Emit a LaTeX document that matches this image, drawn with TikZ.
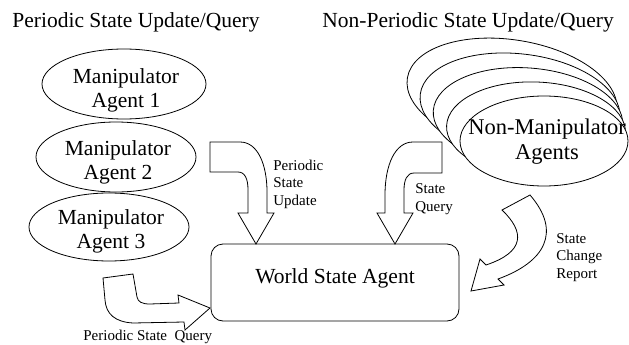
\documentclass[tikz,border=0pt]{standalone}
\usepackage{fontspec}
\setmainfont{Liberation Serif}
\usetikzlibrary{shapes.geometric}
\begin{document}
\begin{tikzpicture}[x=1pt,y=-1pt,line width=0.8pt,
  bigtxt/.style={font=\fontsize{21.5}{24}\selectfont,inner sep=0pt,align=center},
  smalltxt/.style={font=\fontsize{15}{17.5}\selectfont,inner sep=0pt,align=left},
  agent/.style={draw,ellipse,fill=white,inner sep=0pt},
  blockarrow/.style={draw,fill=white,line join=miter}]
\useasboundingbox (0,0) rectangle (629,345);

% titles
\node[bigtxt,anchor=base west] (t1) at (12,27.5) {Periodic State Update/Query};
\node[bigtxt,anchor=base west] (t2) at (322,27.5) {Non-Periodic State Update/Query};

% manipulator agents
\node[agent,minimum width=164pt,minimum height=70pt] (m1) at (124,84) {};
\node[bigtxt] (m1t) at (126,90) {Manipulator\\Agent 1};
\node[agent,minimum width=160pt,minimum height=70pt] (m2) at (116,157) {};
\node[bigtxt] (m2t) at (118,162) {Manipulator\\Agent 2};
\node[agent,minimum width=160pt,minimum height=68pt] (m3) at (109,227) {};
\node[bigtxt] (m3t) at (111,231) {Manipulator\\Agent 3};

% stack of non-manipulator agents
\foreach \k in {4,3,2,1}{
  \pgfmathsetmacro{\t}{\k/4}
  \pgfmathsetmacro{\cx}{544-32*\t}
  \pgfmathsetmacro{\cy}{141-46*\t}
  \pgfmathsetmacro{\ra}{84+22*\t}
  \pgfmathsetmacro{\rb}{45+10*\t}
  \pgfmathsetmacro{\ang}{9.3*\t}
  \draw[fill=white,rotate around={-\ang:(\cx,\cy)}] (\cx,\cy) ellipse [x radius=\ra pt,y radius=\rb pt];
}
\node[agent,minimum width=168pt,minimum height=90pt] (nm) at (544,141) {};
\node[font=\fontsize{22.5}{25}\selectfont,align=center,inner sep=0pt] (nmt) at (547,142) {Non-Manipulator\\Agents};

% world state agent
\node[draw,rounded corners=12pt,minimum width=248pt,minimum height=77pt,inner sep=0pt] (ws) at (335,282.5) {};
\node[bigtxt,anchor=base] (wst) at (335,283) {World State Agent};

% block arrows
\draw[blockarrow] (210,142) -- (240,142) .. controls (258,142) and (267,165) .. (267,192) -- (267,213)
  -- (274,213) -- (256,244) -- (238,213) -- (248,213) -- (248,190)
  .. controls (248,179) and (245,172) .. (238,172) -- (210,172) -- cycle;
\draw[blockarrow] (442,142) -- (413,142) .. controls (395,142) and (385,165) .. (385,195) -- (385,213)
  -- (377,213) -- (395,244) -- (413,213) -- (404,213) -- (404,190)
  .. controls (404,180) and (407,173) .. (414,173) -- (442,173) -- cycle;
\draw[blockarrow] (502,210) .. controls (525,232) and (525,252) .. (486,265) -- (480,259) -- (471,291)
  -- (504,285) -- (498,279) .. controls (545,262) and (562,232) .. (530,195) -- cycle;
\draw[blockarrow] (103,278) -- (133,274) -- (137,297) .. controls (138,302) and (142,304) .. (150,304)
  -- (179,303) -- (178,295) -- (210,308) -- (185,330) -- (184,322) -- (133,323)
  .. controls (115,322) and (106,314) .. (105,300) -- cycle;

% labels (anchor base = baseline of last line)
\node[smalltxt,anchor=base west] (l1) at (273,205) {Periodic\\State\\Update};
\node[smalltxt,anchor=base west] (l2) at (415,211) {State\\Query};
\node[smalltxt,anchor=base west] (l3) at (556,278) {State\\Change\\Report};
\node[smalltxt,anchor=base west] (l4) at (83,340.5) {Periodic State\ \ Query};
\end{tikzpicture}
\end{document}
